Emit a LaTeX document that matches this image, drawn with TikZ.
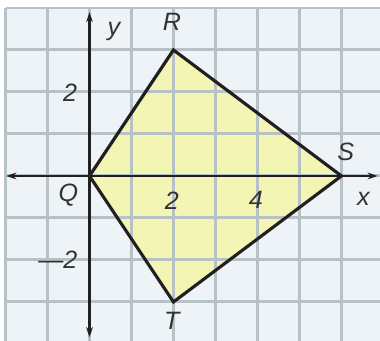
\documentclass[tikz,border=0pt]{standalone}
\usepackage{fontspec}
\setmainfont{Liberation Sans}
\usetikzlibrary{arrows.meta}
\definecolor{gridc}{HTML}{B7C2C6}
\definecolor{bgc}{HTML}{EEF3F7}
\definecolor{fillc}{HTML}{F2F5B3}
\definecolor{inkc}{HTML}{221F20}
\definecolor{txtc}{HTML}{333333}
\tikzset{
  gridline/.style={draw=gridc, line width=0.07cm},
  axisline/.style={draw=inkc, line width=0.068cm, -{Stealth[length=0.24cm, width=0.16cm]}},
  shapeline/.style={draw=inkc, line width=0.075cm, line join=miter},
  lbl/.style={text=txtc, font=\fontsize{17}{17}\selectfont\itshape, inner sep=0pt}
}
\begin{document}
\begin{tikzpicture}
\useasboundingbox (-2.131,-3.929) rectangle (6.917,4.190);
\clip (-2.131,-3.929) rectangle (6.917,4.190);
\fill[white] (-2.131,-3.929) rectangle (6.917,4.190);
\fill[bgc] (-2,-4.2) rectangle (7.2,4);
% polygon
\coordinate (Q) at (0,0);
\coordinate (R) at (2,3);
\coordinate (S) at (6,0);
\coordinate (T) at (2,-3);
\fill[fillc] (Q) -- (R) -- (S) -- (T) -- cycle;
% grid
\foreach \i in {-2,...,7} \draw[gridline] (\i,-4.2) -- (\i,4);
\foreach \j in {-4,...,4} \draw[gridline] (-2,\j) -- (7.2,\j);
% polygon outline
\draw[shapeline] (Q) -- (R) -- (S) -- (T) -- cycle;
% axes
\coordinate (xl) at (-1.98,0);
\coordinate (xr) at (6.86,0);
\coordinate (yb) at (0,-3.84);
\coordinate (yt) at (0,3.90);
\draw[axisline] (Q) -- (xr);
\draw[axisline] (Q) -- (xl);
\draw[axisline] (Q) -- (yt);
\draw[axisline] (Q) -- (yb);
% labels
\node[lbl] (ylab) at (0.58,3.45) {y};
\node[lbl] (xlab) at (6.52,-0.55) {x};
\node[lbl] (Rlab) at (1.96,3.67) {R};
\node[lbl] (Slab) at (6.10,0.57) {S};
\node[lbl] (Tlab) at (1.96,-3.45) {T};
\node[lbl] (Qlab) at (-0.50,-0.46) {Q};
\node[lbl] (y2) at (-0.46,1.98) {2};
\node[lbl, anchor=east] (ym2) at (-0.28,-2.0) {—2};
\node[lbl] (x2) at (1.96,-0.58) {2};
\node[lbl] (x4) at (3.96,-0.58) {4};
\end{tikzpicture}
\end{document}
